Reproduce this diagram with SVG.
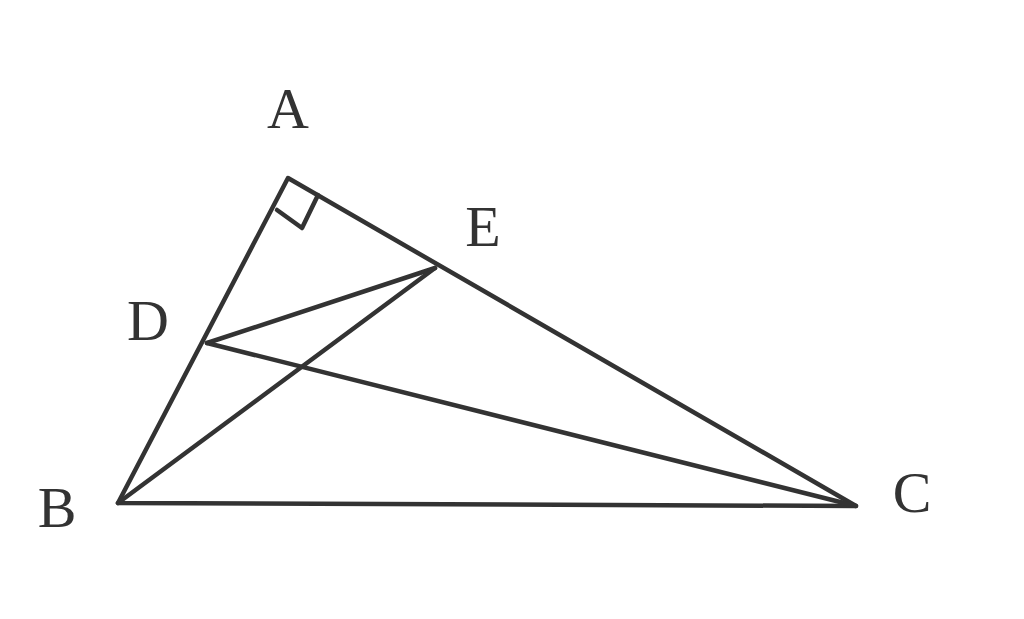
<svg xmlns="http://www.w3.org/2000/svg" width="1024" height="619" viewBox="0 0 1024 619">
<style>
.l{stroke:#333;stroke-width:4.5;fill:none;stroke-linecap:round;stroke-linejoin:round}
.t{font-family:"Liberation Serif","DejaVu Serif",serif;font-size:58px;fill:#333;text-anchor:middle}
</style>
<rect width="1024" height="619" fill="#fff"/>
<g id="connectors">
<polygon class="l" points="288,178 118,503 856,506"/>
<line class="l" x1="207" y1="343" x2="435" y2="268"/>
<line class="l" x1="207" y1="343" x2="856" y2="506"/>
<line class="l" x1="118" y1="503" x2="435" y2="268"/>
<polyline class="l" points="277,210 302,228 318,195"/>
</g>
<g id="A"><text class="t" x="288" y="128">A</text></g>
<g id="E"><text class="t" x="483" y="246">E</text></g>
<g id="D"><text class="t" x="148" y="340">D</text></g>
<g id="B"><text class="t" x="57" y="527">B</text></g>
<g id="C"><text class="t" x="912" y="512">C</text></g>
</svg>
